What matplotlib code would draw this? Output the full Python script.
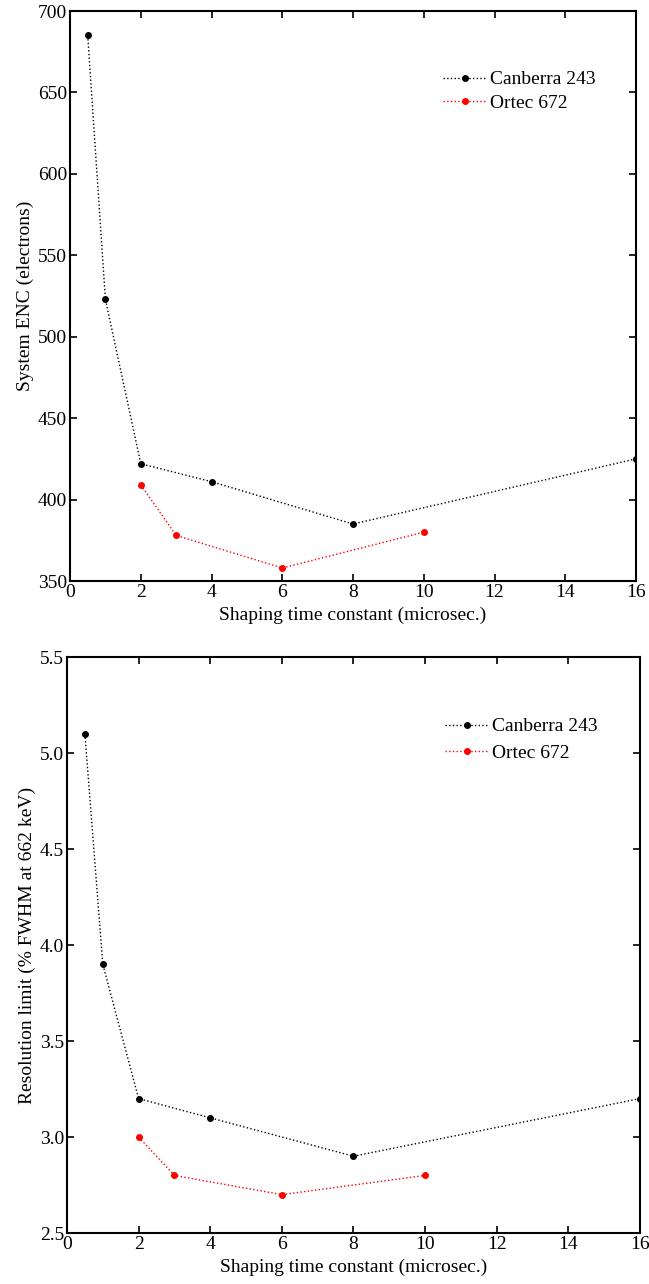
import matplotlib
matplotlib.use('Agg')
import matplotlib.pyplot as plt

plt.rcParams['font.family'] = 'Liberation Serif'
plt.rcParams['font.size'] = 14

# shaping time constants (microsec.)
t_canberra = [0.5, 1, 2, 4, 8, 16]
t_ortec = [2, 3, 6, 10]

# system ENC (electrons)
enc_canberra = [685, 523, 422, 411, 385, 425]
enc_ortec = [409, 378, 358, 380]

# resolution limit (% FWHM at 662 keV)
res_canberra = [5.1, 3.9, 3.2, 3.1, 2.9, 3.2]
res_ortec = [3.0, 2.8, 2.7, 2.8]

fig = plt.figure(figsize=(6.49, 12.84), dpi=100)
ax1 = fig.add_axes([0.1079, 0.5475, 0.8721, 0.4439])
ax2 = fig.add_axes([0.1032, 0.0397, 0.8829, 0.4486])

def draw(ax, yc, yo, ylim, yticks, ylabel, fmt, leg_x, leg_y, spacing):
    ax.plot(t_canberra, yc, ':', color='black', lw=1, marker='o', ms=4, label='Canberra 243')
    ax.plot(t_ortec, yo, ':', color='red', lw=1, marker='o', ms=4, label='Ortec 672')
    ax.set_xlim(0, 16)
    ax.set_ylim(*ylim)
    ax.set_xticks(range(0, 17, 2))
    ax.set_yticks(yticks)
    ax.set_yticklabels([fmt.format(v) for v in yticks])
    ax.tick_params(direction='in', top=True, right=True, length=5, width=1.2, pad=2)
    for s in ax.spines.values():
        s.set_linewidth(1.5)
    ax.set_xlabel('Shaping time constant (microsec.)', fontsize=14, labelpad=4)
    ax.set_ylabel(ylabel, fontsize=14, labelpad=3)
    ax.legend(loc='upper left', bbox_to_anchor=(leg_x, leg_y), frameon=False,
              fontsize=14, handlelength=2.27, handletextpad=0.15, labelspacing=spacing)

draw(ax1, enc_canberra, enc_ortec, (350, 700), list(range(350, 701, 50)),
     'System ENC (electrons)', '{:.0f}', 0.628, 0.926, 0.3)
draw(ax2, res_canberra, res_ortec, (2.5, 5.5), [2.5, 3.0, 3.5, 4.0, 4.5, 5.0, 5.5],
     'Resolution limit (% FWHM at 662 keV)', '{:.1f}', 0.629, 0.925, 0.45)

fig.savefig('out.png', dpi=100)
